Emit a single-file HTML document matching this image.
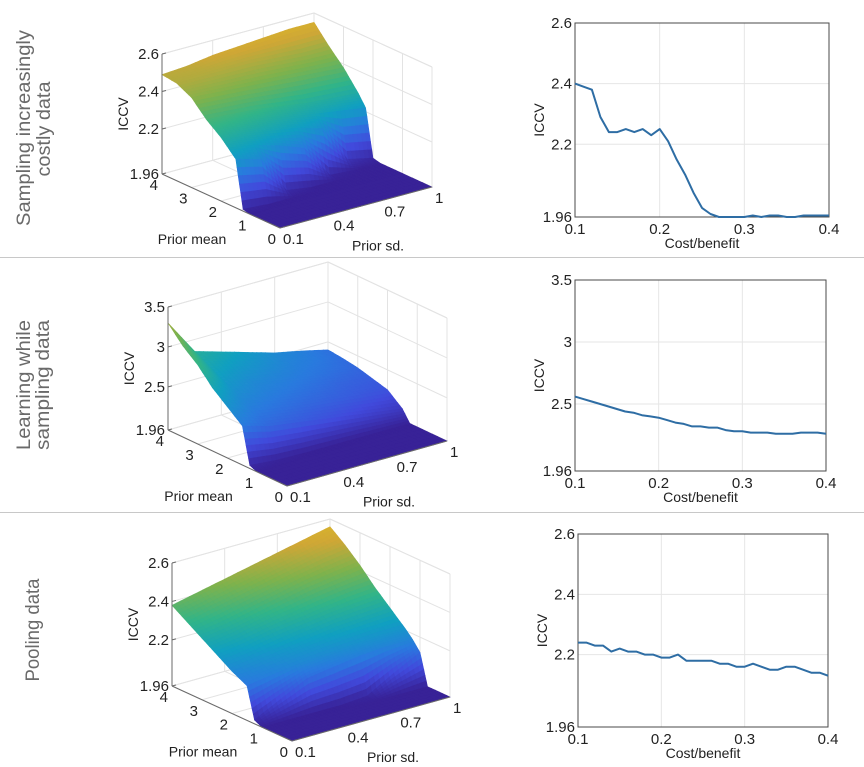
<!DOCTYPE html>
<html><head><meta charset="utf-8">
<style>
html,body{margin:0;padding:0;background:#fff;}
svg{display:block;font-family:"Liberation Sans",Arial,sans-serif;}
</style></head>
<body>
<svg id="fig" width="864" height="767" viewBox="0 0 864 767" xmlns="http://www.w3.org/2000/svg">
<rect x="0" y="0" width="864" height="767" fill="#fff"/>
<line x1="0" y1="257.5" x2="864" y2="257.5" stroke="#c8c8c8" stroke-width="1"/>
<line x1="0" y1="512.5" x2="864" y2="512.5" stroke="#c8c8c8" stroke-width="1"/>
<g fill="#6a6a6a" font-size="19" text-anchor="middle">
<text transform="translate(30,128) rotate(-90)" textLength="196" lengthAdjust="spacingAndGlyphs">Sampling increasingly</text>
<text transform="translate(50,129) rotate(-90)" textLength="95" lengthAdjust="spacingAndGlyphs">costly data</text>
<text transform="translate(30,385) rotate(-90)" textLength="130" lengthAdjust="spacingAndGlyphs">Learning while</text>
<text transform="translate(49,385) rotate(-90)" textLength="130" lengthAdjust="spacingAndGlyphs">sampling data</text>
<text transform="translate(39,630) rotate(-90)" textLength="103" lengthAdjust="spacingAndGlyphs">Pooling data</text>
</g>
<g id="charts"></g>
</svg>
<script>
// ---------- Line chart data ----------
const costBenefit = [0.10,0.11,0.12,0.13,0.14,0.15,0.16,0.17,0.18,0.19,0.20,0.21,0.22,0.23,0.24,0.25,0.26,0.27,0.28,0.29,0.30,0.31,0.32,0.33,0.34,0.35,0.36,0.37,0.38,0.39,0.40];
const iccvCostly = [2.40,2.39,2.38,2.29,2.24,2.24,2.25,2.24,2.25,2.23,2.25,2.21,2.15,2.10,2.04,1.99,1.97,1.96,1.96,1.96,1.96,1.965,1.96,1.965,1.965,1.96,1.96,1.965,1.965,1.965,1.965];
const iccvLearning = [2.56,2.54,2.52,2.50,2.48,2.46,2.44,2.43,2.41,2.40,2.39,2.37,2.35,2.34,2.32,2.32,2.31,2.31,2.29,2.28,2.28,2.27,2.27,2.27,2.26,2.26,2.26,2.27,2.27,2.27,2.26];
const iccvPooling = [2.24,2.24,2.23,2.23,2.21,2.22,2.21,2.21,2.20,2.20,2.19,2.19,2.20,2.18,2.18,2.18,2.18,2.17,2.17,2.16,2.16,2.17,2.16,2.15,2.15,2.16,2.16,2.15,2.14,2.14,2.13];
const xTicks = [0.1,0.2,0.3,0.4];
const xTickLabels = ["0.1","0.2","0.3","0.4"];
const yTicksA = [1.96,2.2,2.4,2.6];
const yTickLabelsA = ["1.96","2.2","2.4","2.6"];
const yTicksB = [1.96,2.5,3,3.5];
const yTickLabelsB = ["1.96","2.5","3","3.5"];

// ---------- Surface data (rows: prior mean, cols: prior sd) ----------
const priorSd = [0.1,0.25,0.4,0.55,0.7,0.85,1.0];
const meanRows1 = [0,1,1.25,1.5,1.75,2,2.25,2.5,3,3.5,4];
const surfCostly = [
[1.96,1.96,1.96,1.96,1.96,1.96,1.96],
[1.96,1.96,1.96,1.96,1.96,1.96,1.96],
[1.97,1.96,1.96,1.96,1.96,1.96,1.96],
[2.22,2.18,1.98,1.96,1.96,1.96,1.96],
[2.26,2.24,2.20,2.15,1.97,1.96,1.96],
[2.30,2.28,2.26,2.24,2.20,2.00,1.97],
[2.33,2.32,2.30,2.28,2.26,2.24,2.22],
[2.36,2.35,2.34,2.32,2.30,2.29,2.28],
[2.44,2.43,2.42,2.41,2.40,2.39,2.38],
[2.48,2.48,2.48,2.48,2.47,2.46,2.46],
[2.49,2.50,2.52,2.53,2.54,2.55,2.55]];
const meanRows2 = [0,1,1.25,1.5,2,2.5,3,3.5,4];
const surfLearning = [
[1.96,1.96,1.96,1.96,1.96,1.96,1.96],
[1.96,1.96,1.96,1.96,1.96,1.96,1.96],
[2.00,1.97,1.96,1.96,1.96,1.96,1.96],
[2.45,2.35,2.30,2.25,2.20,2.15,2.10],
[2.60,2.45,2.40,2.35,2.32,2.28,2.25],
[2.75,2.55,2.48,2.43,2.38,2.33,2.30],
[2.95,2.65,2.55,2.50,2.45,2.40,2.35],
[3.10,2.75,2.65,2.58,2.50,2.45,2.38],
[3.30,2.85,2.75,2.65,2.55,2.48,2.40]];
const meanRows3 = [0,0.75,1,1.25,1.5,2,2.5,3,3.5,4];
const surfPooling = [
[1.96,1.96,1.96,1.96,1.96,1.96,1.96],
[1.96,1.96,1.96,1.96,1.96,1.96,1.96],
[1.96,1.96,1.96,1.96,1.97,2.05,2.12],
[1.98,2.05,2.12,2.14,2.16,2.17,2.17],
[2.14,2.16,2.18,2.19,2.20,2.21,2.21],
[2.18,2.20,2.22,2.24,2.26,2.27,2.28],
[2.23,2.25,2.28,2.30,2.32,2.34,2.35],
[2.28,2.30,2.33,2.36,2.39,2.41,2.43],
[2.33,2.36,2.39,2.42,2.45,2.48,2.50],
[2.38,2.41,2.44,2.47,2.50,2.53,2.56]];
const meanTicks = [0,1,2,3,4];
const meanTickLabels = ["0","1","2","3","4"];
const sdTicks = [0.1,0.4,0.7,1];
const sdTickLabels = ["0.1","0.4","0.7","1"];

const NS = "http://www.w3.org/2000/svg";
const root = document.getElementById('charts');
function mk(tag, attrs, parent){
  const e = document.createElementNS(NS, tag);
  for (const k in attrs) e.setAttribute(k, attrs[k]);
  (parent||root).appendChild(e);
  return e;
}

function lineChart(cfg, xs, ys, yt, ytl, name){
  const g = mk('g', {});
  
  
  const sx = v => cfg.x0 + (v-0.1)/(0.3)*(cfg.x1-cfg.x0);
  const sy = v => cfg.y1 - (v-1.96)/(cfg.ymax-1.96)*(cfg.y1-cfg.y0);
  xTicks.forEach((t,i)=>{
    const l = mk('line',{x1:sx(t),x2:sx(t),y1:cfg.y0,y2:cfg.y1,stroke:'#e6e6e6','stroke-width':1},g);
    
    
    const tx = mk('text',{x:sx(t),y:cfg.y1+17,'font-size':15,'text-anchor':'middle',fill:'#222'},g);
    tx.textContent = xTickLabels[i];
    
    
  });
  yt.forEach((t,i)=>{
    const l = mk('line',{x1:cfg.x0,x2:cfg.x1,y1:sy(t),y2:sy(t),stroke:'#e6e6e6','stroke-width':1},g);
    
    
    const tx = mk('text',{x:cfg.x0-3,y:sy(t)+5,'font-size':15,'text-anchor':'end',fill:'#222'},g);
    tx.textContent = ytl[i];
    
    
  });
  const box = mk('rect',{x:cfg.x0,y:cfg.y0,width:cfg.x1-cfg.x0,height:cfg.y1-cfg.y0,fill:'none',stroke:'#4a4a4a','stroke-width':1},g);
  
  
  const pts = xs.map((x,i)=>sx(x).toFixed(1)+','+sy(ys[i]).toFixed(1)).join(' ');
  const pl = mk('polyline',{points:pts,fill:'none',stroke:'#2e6da4','stroke-width':2,'stroke-linejoin':'round'},g);
  
  
  const yl = mk('text',{transform:`translate(${cfg.x0-31},${(cfg.y0+cfg.y1)/2}) rotate(-90)`,'font-size':14,'text-anchor':'middle',fill:'#222'},g);
  yl.textContent = 'ICCV';
  
  
  const xl = mk('text',{x:(cfg.x0+cfg.x1)/2,y:cfg.y1+31,'font-size':14,'text-anchor':'middle',fill:'#222'},g);
  xl.textContent = 'Cost/benefit';
  
  
}
lineChart({x0:575,x1:829,y0:23,y1:217,ymax:2.6}, costBenefit, iccvCostly, yTicksA, yTickLabelsA, 'line-chart-costly');
lineChart({x0:575,x1:826,y0:280,y1:471,ymax:3.5}, costBenefit, iccvLearning, yTicksB, yTickLabelsB, 'line-chart-learning');
lineChart({x0:578,x1:828,y0:534,y1:727,ymax:2.6}, costBenefit, iccvPooling, yTicksA, yTickLabelsA, 'line-chart-pooling');

const parula = [[0,[62,38,168]],[0.125,[72,82,244]],[0.25,[46,135,247]],[0.375,[18,177,214]],[0.5,[55,200,151]],[0.625,[140,198,85]],[0.75,[230,185,60]],[0.875,[250,210,40]],[1,[249,251,21]]];
function cmap(t){
  t = Math.max(0,Math.min(1,t));
  for (let i=1;i<parula.length;i++){
    if (t<=parula[i][0]){
      const a=parula[i-1], b=parula[i], f=(t-a[0])/(b[0]-a[0]);
      const c=a[1].map((v,k)=>Math.round((v+(b[1][k]-v)*f)*0.9));
      return `rgb(${c[0]},${c[1]},${c[2]})`;
    }
  }
  return 'rgb(224,226,19)';
}

function surface(cfg, means, Z, zt, ztl, name){
  const g = mk('g', {});
  
  
  const H = cfg.M4[1]-cfg.ztopY;
  const P = (m,s,z) => {
    const fm=m/4, fs=(s-0.1)/0.9, fz=(z-1.96)/(cfg.zmax-1.96);
    return [cfg.O[0]+fm*(cfg.M4[0]-cfg.O[0])+fs*(cfg.S1[0]-cfg.O[0]),
            cfg.O[1]+fm*(cfg.M4[1]-cfg.O[1])+fs*(cfg.S1[1]-cfg.O[1])-fz*H];
  };
  const ln = (a,b,col,w,nm)=>{
    const l=mk('line',{x1:a[0],y1:a[1],x2:b[0],y2:b[1],stroke:col,'stroke-width':w},g);
    
    
  };
  const grid='#e3e3e3';
  zt.forEach(z=>{ ln(P(4,0.1,z),P(4,1,z),grid,1,'back-wall-gridline'); ln(P(4,1,z),P(0,1,z),grid,1,'side-wall-gridline'); });
  sdTicks.forEach(s=>{ ln(P(4,s,1.96),P(4,s,cfg.zmax),grid,1,'back-wall-gridline'); ln(P(0,s,1.96),P(4,s,1.96),grid,1,'floor-gridline'); });
  meanTicks.forEach(m=>{ ln(P(m,1,1.96),P(m,1,cfg.zmax),grid,1,'side-wall-gridline'); ln(P(m,0.1,1.96),P(m,1,1.96),grid,1,'floor-gridline'); });
  ln(P(4,0.1,cfg.zmax),P(4,1,cfg.zmax),grid,1,'box-top-edge');
  ln(P(4,1,cfg.zmax),P(0,1,cfg.zmax),grid,1,'box-top-edge');
  const zmin=1.96;
  const crange=cfg.cmax-zmin;
  const sub=6;
  const sg = mk('g',{},g);
  
  
  for (let i=means.length-2;i>=0;i--){
    for (let j=priorSd.length-2;j>=0;j--){
      for (let a=sub-1;a>=0;a--){
        for (let b=sub-1;b>=0;b--){
          const corner=(da,db)=>{
            const u=(a+da)/sub, v=(b+db)/sub;
            const z = Z[i][j]*(1-u)*(1-v)+Z[i+1][j]*u*(1-v)+Z[i][j+1]*(1-u)*v+Z[i+1][j+1]*u*v;
            const m = means[i]+(means[i+1]-means[i])*u;
            const s = priorSd[j]+(priorSd[j+1]-priorSd[j])*v;
            return {p:P(m,s,z),z:z};
          };
          const c=[corner(0,0),corner(1,0),corner(1,1),corner(0,1)];
          const zav=(c[0].z+c[1].z+c[2].z+c[3].z)/4;
          const col=cmap((zav-zmin)/crange);
          const poly=mk('polygon',{points:c.map(q=>q.p[0].toFixed(1)+','+q.p[1].toFixed(1)).join(' '),fill:col,stroke:col,'stroke-width':0.6},sg);
          
          
        }
      }
    }
  }
  const ax='#6a6a6a';
  ln(P(4,0.1,1.96),P(4,0.1,cfg.zmax),ax,1,'z-axis-line');
  ln(P(4,0.1,1.96),P(0,0.1,1.96),ax,1,'prior-mean-axis-line');
  ln(P(0,0.1,1.96),P(0,1,1.96),ax,1,'prior-sd-axis-line');
  zt.forEach((z,i)=>{
    const p=P(4,0.1,z);
    ln(p,[p[0]+4,p[1]-1],ax,1,'z-tick');
    const t=mk('text',{x:p[0]-3,y:p[1]+5,'font-size':15,'text-anchor':'end',fill:'#222'},g);
    t.textContent=ztl[i];
    
    
  });
  meanTicks.forEach((m,i)=>{
    const p=P(m,0.1,1.96);
    const t=mk('text',{x:p[0]-4,y:p[1]+16,'font-size':15,'text-anchor':'end',fill:'#222'},g);
    t.textContent=meanTickLabels[i];
    
    
  });
  sdTicks.forEach((s,i)=>{
    const p=P(0,s,1.96);
    const t=mk('text',{x:p[0]+3,y:p[1]+16,'font-size':15,'text-anchor':'start',fill:'#222'},g);
    t.textContent=sdTickLabels[i];
    
    
  });
  const A=P(4,0.1,1.96), O=P(0,0.1,1.96), S=P(0,1,1.96);
  const zl=mk('text',{transform:`translate(${A[0]-34},${(A[1]+P(4,0.1,cfg.zmax)[1])/2}) rotate(-90)`,'font-size':14,'text-anchor':'middle',fill:'#222'},g);
  zl.textContent='ICCV';
  
  
  const ml=mk('text',{x:(A[0]+O[0])/2-29,y:(A[1]+O[1])/2+43,'font-size':14,'text-anchor':'middle',fill:'#222'},g);
  ml.textContent='Prior mean';
  
  
  const sl=mk('text',{x:(O[0]+S[0])/2+22,y:(O[1]+S[1])/2+43,'font-size':14,'text-anchor':'middle',fill:'#222'},g);
  sl.textContent='Prior sd.';
  
  
}
surface({O:[280,228],M4:[162,174],S1:[432,187],ztopY:54,zmax:2.6,cmax:2.7}, meanRows1, surfCostly, yTicksA, yTickLabelsA, 'surface-plot-costly');
surface({O:[287,486],M4:[168,430],S1:[447,441],ztopY:307,zmax:3.5,cmax:3.9}, meanRows2, surfLearning, yTicksB, yTickLabelsB, 'surface-plot-learning');
surface({O:[292,741],M4:[172,686],S1:[450,697],ztopY:563,zmax:2.6,cmax:2.7}, meanRows3, surfPooling, yTicksA, yTickLabelsA, 'surface-plot-pooling');
</script>
</body></html>
